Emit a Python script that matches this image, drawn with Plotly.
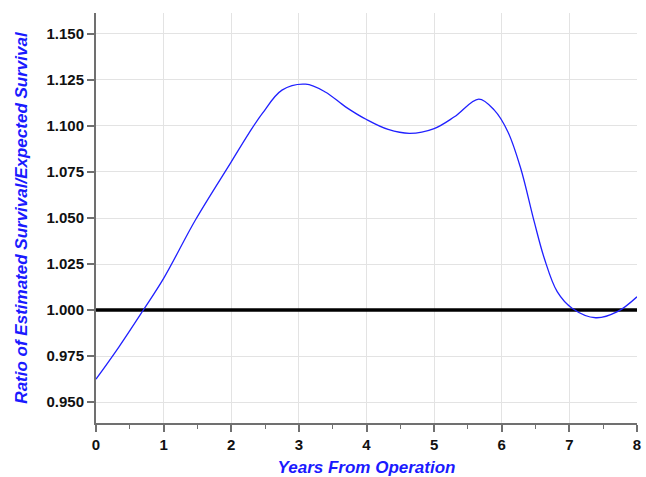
import plotly.graph_objects as go

years = [0.0, 0.34, 0.70, 1.0, 1.47, 2.0, 2.26, 2.46, 2.75, 3.10, 3.39, 3.69, 4.0, 4.32,
         4.64, 5.0, 5.30, 5.66, 5.89, 6.09, 6.28, 6.48, 6.63, 6.82, 7.04, 7.39, 7.71, 8.0]
ratio = [0.9624, 0.980, 1.000, 1.0172, 1.0489, 1.0805, 1.096, 1.1068, 1.1195, 1.1227, 1.1185,
         1.1104, 1.1035, 1.0981, 1.096, 1.0986, 1.105, 1.1146, 1.1086, 1.0969, 1.077, 1.048,
         1.028, 1.010, 1.001, 0.9958, 0.9991, 1.0072]
ref_x = [0, 8]
ref_y = [1.0, 1.0]
x_ticks = [0, 1, 2, 3, 4, 5, 6, 7, 8]
y_ticks = [0.950, 0.975, 1.000, 1.025, 1.050, 1.075, 1.100, 1.125, 1.150]

font = "Liberation Sans, Arial, sans-serif"
fig = go.Figure()
fig.add_trace(go.Scatter(x=ref_x, y=ref_y, mode="lines",
                         line=dict(color="black", width=3.5), hoverinfo="skip"))
fig.add_trace(go.Scatter(x=years, y=ratio, mode="lines",
                         line=dict(color="#2020ff", width=1.3, shape="spline", smoothing=1.0)))

fig.update_layout(
    width=646, height=477,
    margin=dict(l=96, r=9, t=13, b=54),
    paper_bgcolor="white", plot_bgcolor="white",
    showlegend=False,
    font=dict(family=font, size=13, color="#222222"),
    xaxis=dict(
        range=[0, 8], tickvals=x_ticks, ticktext=[str(v) for v in x_ticks],
        automargin=False,
        showgrid=True, gridcolor="#e3e3e3", gridwidth=1.2,
        showline=True, linecolor="#707070", linewidth=2,
        ticks="outside", ticklen=7, tickwidth=1.5, tickcolor="#707070",
        minor=dict(dtick=0.5, ticks="outside", ticklen=4, tickwidth=1.2, tickcolor="#707070", showgrid=False),
        tickfont=dict(family=font, size=15, color="#111111", weight="bold"),
        zeroline=False,
        title=dict(text="<b><i>Years From Operation</i></b>",
                   font=dict(family=font, size=17, color="#1a1aff"), standoff=13),
    ),
    yaxis=dict(
        range=[0.9386, 1.1614], tickvals=y_ticks, ticktext=["%.3f" % v for v in y_ticks],
        automargin=False,
        showgrid=True, gridcolor="#e3e3e3", gridwidth=1.2,
        showline=True, linecolor="#707070", linewidth=2,
        ticks="outside", ticklen=7, tickwidth=1.5, tickcolor="#707070",
        tickfont=dict(family=font, size=15, color="#111111", weight="bold"),
        zeroline=False,
        title=dict(text="<b><i>Ratio of Estimated Survival/Expected Survival</i></b>",
                   font=dict(family=font, size=17, color="#1a1aff"), standoff=15),
    ),
)
fig.write_html("out.html")
